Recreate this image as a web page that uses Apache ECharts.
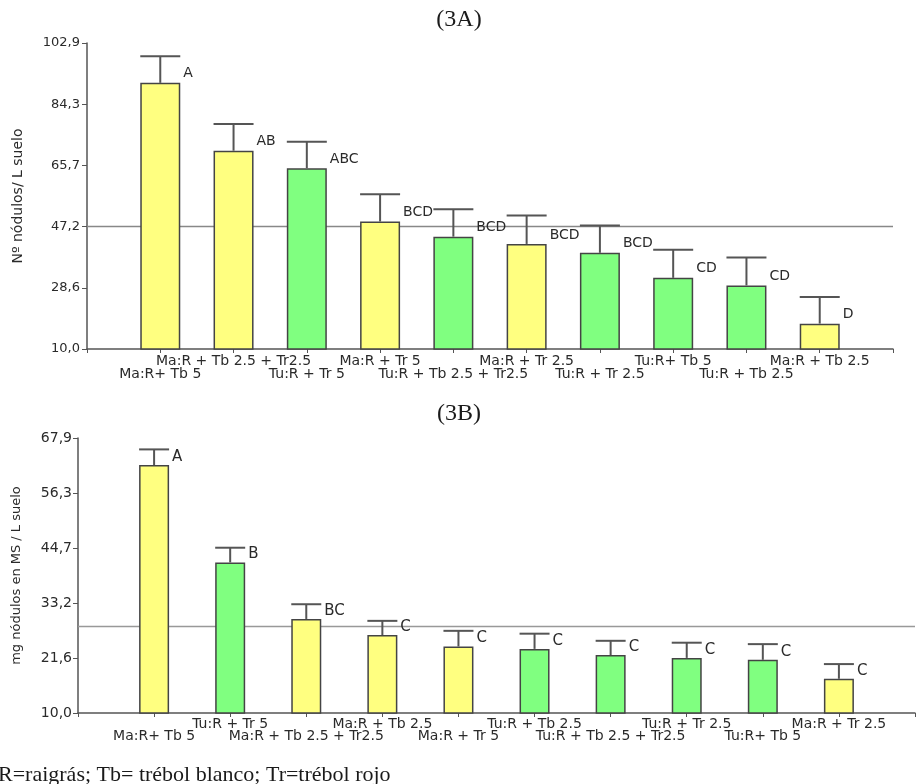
<!DOCTYPE html>
<html>
<head>
<meta charset="utf-8">
<script src="https://cdn.jsdelivr.net/npm/echarts@6/dist/echarts.min.js"></script>
<style>
html,body{margin:0;padding:0;background:#fff;}
#chart{width:918px;height:784px;}
</style>
</head>
<body>
<div id="chart"></div>
<script>
// ---- Data: chart 3A (Nº nódulos / L suelo) ----
var catsA = ["Ma:R+ Tb 5", "Ma:R + Tb 2.5 + Tr2.5", "Tu:R + Tr 5", "Ma:R + Tr 5", "Tu:R + Tb 2.5 + Tr2.5", "Ma:R + Tr 2.5", "Tu:R + Tr 2.5", "Tu:R+ Tb 5", "Tu:R + Tb 2.5", "Ma:R + Tb 2.5"];
var valsA = [90.8, 70.2, 64.9, 48.7, 44.1, 41.9, 39.2, 31.6, 29.3, 17.7];
var errTopA = [98.9, 78.3, 72.9, 57.0, 52.4, 50.5, 47.5, 40.1, 37.8, 25.8];
var lettersA = ["A", "AB", "ABC", "BCD", "BCD", "BCD", "BCD", "CD", "CD", "D"];
var ticksA = [10, 28.58, 47.16, 65.74, 84.32, 102.9];
var refA = 47.2;

// ---- Data: chart 3B (mg nódulos en MS / L suelo) ----
var catsB = ["Ma:R+ Tb 5", "Tu:R + Tr 5", "Ma:R + Tb 2.5 + Tr2.5", "Ma:R + Tb 2.5", "Ma:R + Tr 5", "Tu:R + Tb 2.5", "Tu:R + Tb 2.5 + Tr2.5", "Tu:R + Tr 2.5", "Tu:R+ Tb 5", "Ma:R + Tr 2.5"];
var valsB = [62.2, 41.7, 29.8, 26.4, 24.0, 23.5, 22.2, 21.6, 21.2, 17.2];
var errTopB = [65.5, 44.8, 32.9, 29.4, 27.3, 26.7, 25.2, 24.8, 24.5, 20.3];
var lettersB = ["A", "B", "BC", "C", "C", "C", "C", "C", "C", "C"];
var ticksB = [10, 21.58, 33.16, 44.74, 56.32, 67.9];
var refB = 28.2;

var YELLOW = '#FFFF80', GREEN = '#80FF80';
var FONT = 'DejaVu Sans';
var TXT = '#2a2a2a';

function padCats(c) { return [''].concat(c).concat(['']); }
function barData(cats, vals) {
  var d = ['-'];
  for (var i = 0; i < vals.length; i++) {
    d.push({ value: vals[i], itemStyle: { color: cats[i].indexOf('Ma') === 0 ? YELLOW : GREEN } });
  }
  d.push('-');
  return d;
}
function errData(vals, tops, letters) {
  var d = [];
  for (var i = 0; i < vals.length; i++) d.push([i + 1, vals[i], tops[i], letters[i]]);
  return d;
}
function refData(v, n) { var d = []; for (var i = 0; i < n + 2; i++) d.push(v); return d; }
function fmt(v) { return v.toFixed(1).replace('.', ','); }

function errRender(bw, fs, dy) {
  return function (params, api) {
    var x = api.value(0);
    var p0 = api.coord([x, api.value(1)]);
    var p1 = api.coord([x, api.value(2)]);
    var st = { stroke: '#555', lineWidth: 2 };
    return {
      type: 'group',
      children: [
        { type: 'line', shape: { x1: p0[0], y1: p0[1], x2: p1[0], y2: p1[1] }, style: st },
        { type: 'line', shape: { x1: p0[0] - bw / 2, y1: p1[1], x2: p0[0] + bw / 2, y2: p1[1] }, style: st },
        { type: 'text', style: { text: api.value(3), x: p0[0] + bw / 2 + 3, y: p0[1] - dy,
            align: 'left', verticalAlign: 'middle', fontFamily: FONT, fontSize: fs, fill: TXT } }
      ]
    };
  };
}

function xAxisCfg(idx, cats, fs, lh, margin) {
  return {
    type: 'category', gridIndex: idx, data: padCats(cats), boundaryGap: false,
    axisLine: { lineStyle: { color: '#555', width: 1.5 } },
    axisTick: { show: true, interval: 0, length: 4, lineStyle: { color: '#555' } },
    axisLabel: {
      interval: 0, fontFamily: FONT, fontSize: fs, lineHeight: lh, color: TXT, margin: margin,
      formatter: function (v, i) { if (!v) return ''; return (i % 2 === 1) ? '\n' + v : v; }
    },
    splitLine: { show: false }
  };
}
function yAxisCfg(idx, max, ticks, name, nfs, gap, fs, margin) {
  return {
    type: 'value', gridIndex: idx, min: 10, max: max,
    name: name, nameLocation: 'middle', nameGap: gap,
    nameTextStyle: { fontFamily: FONT, fontSize: nfs, color: TXT },
    axisLine: { show: true, lineStyle: { color: '#555', width: 1.5 } },
    axisTick: { show: true, length: 5, customValues: ticks, lineStyle: { color: '#555' } },
    axisLabel: { customValues: ticks, formatter: fmt, fontFamily: FONT, fontSize: fs, color: TXT, margin: margin },
    splitLine: { show: false }
  };
}

var chart = echarts.init(document.getElementById('chart'), null, { renderer: 'canvas' });
chart.setOption({
  animation: false,
  backgroundColor: '#fff',
  title: [
    { text: '(3A)', left: 'center', top: 3, textStyle: { fontFamily: 'Liberation Serif', fontSize: 24, fontWeight: 'normal', color: '#1a1a1a' } },
    { text: '(3B)', left: 'center', top: 397, textStyle: { fontFamily: 'Liberation Serif', fontSize: 24, fontWeight: 'normal', color: '#1a1a1a' } }
  ],
  grid: [
    { left: 87, top: 43, width: 806, height: 306 },
    { left: 78, top: 438, width: 848, height: 275 }
  ],
  xAxis: [
    xAxisCfg(0, catsA, 14, 13, 6),
    xAxisCfg(1, catsB, 14, 12, 5)
  ],
  yAxis: [
    yAxisCfg(0, 102.9, ticksA, 'Nº nódulos/ L suelo', 14, 62, 13, 7),
    yAxisCfg(1, 67.9, ticksB, 'mg nódulos en MS / L suelo', 13, 55, 14, 6)
  ],
  series: [
    { type: 'line', xAxisIndex: 0, yAxisIndex: 0, data: refData(refA, catsA.length), symbol: 'none', z: 1,
      lineStyle: { color: '#888', width: 1.5 }, silent: true },
    { type: 'bar', xAxisIndex: 0, yAxisIndex: 0, data: barData(catsA, valsA), barWidth: 40, z: 3,
      itemStyle: { borderColor: '#444', borderWidth: 1.5 } },
    { type: 'custom', xAxisIndex: 0, yAxisIndex: 0, data: errData(valsA, errTopA, lettersA), z: 4,
      renderItem: errRender(40, 14, 9) },
    { type: 'line', xAxisIndex: 1, yAxisIndex: 1, data: refData(refB, catsB.length), symbol: 'none', z: 1,
      lineStyle: { color: '#999', width: 1.5 }, silent: true },
    { type: 'bar', xAxisIndex: 1, yAxisIndex: 1, data: barData(catsB, valsB), barWidth: 30, z: 3,
      itemStyle: { borderColor: '#444', borderWidth: 1.5 } },
    { type: 'custom', xAxisIndex: 1, yAxisIndex: 1, data: errData(valsB, errTopB, lettersB), z: 4,
      renderItem: errRender(30, 15, 8) }
  ],
  graphic: [
    { type: 'text', left: -2, top: 764, style: { text: 'R=raigrás; Tb= trébol blanco; Tr=trébol rojo',
        fontFamily: 'Liberation Serif', fontSize: 22, fill: '#1a1a1a' } }
  ]
});
</script>
</body>
</html>
